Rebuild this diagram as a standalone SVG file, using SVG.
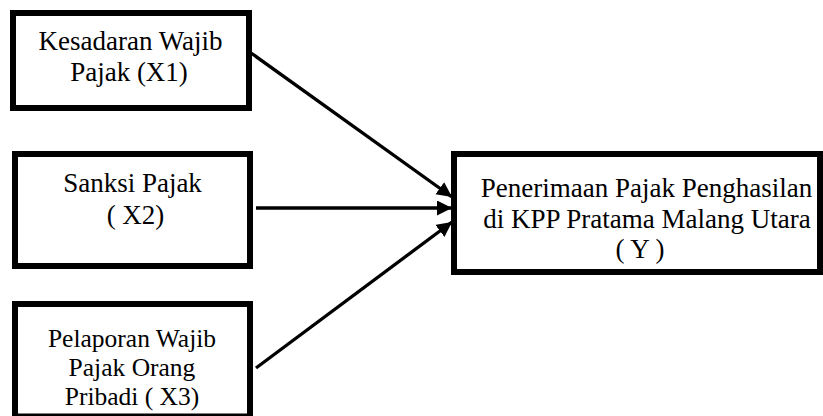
<svg xmlns="http://www.w3.org/2000/svg" width="823" height="416" viewBox="0 0 823 416">
<style>
.box{fill:#fff;stroke:#000;stroke-width:6}
.t{font-family:"Liberation Serif","Times New Roman",serif;font-size:27px;fill:#000;text-anchor:middle}
.s{font-size:25.5px}
.c{stroke:#000;stroke-width:3.3;fill:none;marker-end:url(#ah)}
</style>
<defs>
<marker id="ah" markerUnits="userSpaceOnUse" markerWidth="16" markerHeight="16" refX="15" refY="7.5" orient="auto">
<path d="M0,0 L15,7.5 L0,15 z" fill="#000"/>
</marker>
</defs>
<rect width="823" height="416" fill="#fff"/>
<g id="x1">
<rect class="box" x="13" y="13" width="236" height="95"/>
<text class="t" x="130.5" y="50">Kesadaran Wajib</text>
<text class="t" x="129" y="81">Pajak (X1)</text>
</g>
<g id="x2">
<rect class="box" x="15" y="154" width="235" height="112"/>
<text class="t" x="132.5" y="192">Sanksi Pajak</text>
<text class="t" x="135.5" y="224">( X2)</text>
</g>
<g id="x3">
<rect class="box" x="15" y="304" width="235" height="112.5"/>
<text class="t s" x="132" y="346.5">Pelaporan Wajib</text>
<text class="t s" x="132" y="375.5">Pajak Orang</text>
<text class="t s" x="132" y="404.5">Pribadi ( X3)</text>
</g>
<g id="y">
<rect class="box" x="454" y="154" width="366" height="118"/>
<text class="t" x="646.5" y="197">Penerimaan Pajak Penghasilan</text>
<text class="t" x="647" y="228">di KPP Pratama Malang Utara</text>
<text class="t" x="640" y="258">( Y )</text>
</g>
<g id="connectors">
<line class="c" x1="251" y1="53" x2="452" y2="197"/>
<line class="c" x1="256" y1="208" x2="452" y2="208"/>
<line class="c" x1="256" y1="368" x2="452" y2="222"/>
</g>
</svg>
